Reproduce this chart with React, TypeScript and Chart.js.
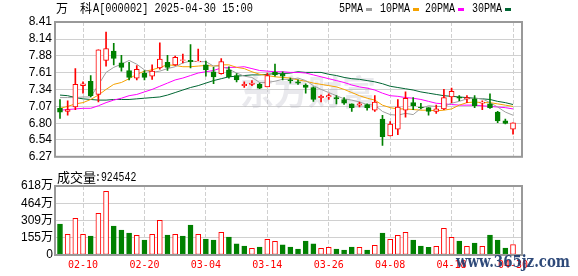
import { useEffect, useRef } from "react";
import { Chart, registerables } from "chart.js";
Chart.register(...registerables);

const dates = ["02-05","02-06","02-07","02-10","02-11","02-12","02-13","02-14","02-17","02-18","02-19","02-20","02-21","02-24","02-25","02-26","02-27","02-28","03-03","03-04","03-05","03-06","03-07","03-10","03-11","03-12","03-13","03-14","03-17","03-18","03-19","03-20","03-21","03-24","03-25","03-26","03-27","03-28","03-31","04-01","04-02","04-03","04-07","04-08","04-09","04-10","04-11","04-14","04-15","04-16","04-17","04-18","04-21","04-22","04-23","04-24","04-25","04-28","04-29","04-30"];
const opens = [7.04,6.99,7.06,7.40,7.47,7.26,7.80,7.95,7.76,7.64,7.52,7.60,7.55,7.68,7.77,7.73,7.80,7.80,7.78,7.73,7.62,7.59,7.65,7.56,7.40,7.42,7.42,7.38,7.61,7.58,7.49,7.46,7.41,7.37,7.21,7.22,7.21,7.18,7.11,7.09,7.10,7.01,6.87,6.60,6.71,7.01,7.13,7.06,7.05,6.99,7.03,7.22,7.22,7.19,7.19,7.12,7.11,6.98,6.84,6.71];
const highs = [7.18,7.16,7.67,7.46,7.56,7.97,8.25,8.07,7.88,7.77,7.72,7.64,7.73,8.08,7.88,7.87,7.90,8.05,7.98,7.79,7.69,7.83,7.70,7.59,7.46,7.48,7.44,7.60,7.74,7.62,7.52,7.49,7.43,7.38,7.25,7.27,7.24,7.21,7.11,7.14,7.11,7.24,6.93,6.83,7.18,7.30,7.21,7.12,7.05,7.09,7.34,7.36,7.24,7.24,7.24,7.16,7.27,6.99,6.87,6.81];
const lows = [6.88,6.93,7.02,7.28,7.22,7.14,7.71,7.73,7.63,7.49,7.49,7.49,7.50,7.66,7.64,7.72,7.76,7.68,7.78,7.55,7.43,7.58,7.52,7.46,7.37,7.40,7.35,7.38,7.55,7.49,7.44,7.42,7.28,7.15,7.14,7.18,7.11,7.10,6.99,7.06,7.01,6.99,6.45,6.60,6.62,6.90,7.02,7.03,6.93,6.96,7.02,7.13,7.16,7.13,7.05,7.02,7.04,6.81,6.79,6.63];
const closes = [6.98,7.02,7.42,7.43,7.24,7.97,7.99,7.83,7.69,7.53,7.66,7.53,7.63,7.82,7.69,7.85,7.81,7.78,7.79,7.65,7.54,7.78,7.54,7.49,7.42,7.44,7.36,7.56,7.57,7.55,7.48,7.44,7.37,7.18,7.23,7.24,7.19,7.12,7.05,7.11,7.05,7.14,6.59,6.79,7.06,7.20,7.08,7.05,6.99,7.03,7.21,7.31,7.20,7.21,7.08,7.14,7.05,6.84,6.80,6.81];
const ma5 = [7.21,7.21,7.21,7.22,7.22,7.41,7.61,7.69,7.74,7.80,7.74,7.65,7.61,7.63,7.67,7.70,7.76,7.79,7.78,7.78,7.71,7.71,7.66,7.60,7.55,7.53,7.45,7.45,7.47,7.50,7.50,7.52,7.48,7.40,7.34,7.29,7.24,7.19,7.17,7.14,7.10,7.09,6.99,6.94,6.93,6.96,6.94,7.04,7.08,7.07,7.07,7.12,7.15,7.19,7.20,7.19,7.13,7.06,6.98,6.93];
const ma10 = [7.04,7.07,7.11,7.13,7.18,7.25,7.34,7.42,7.45,7.51,7.58,7.63,7.65,7.69,7.73,7.72,7.70,7.70,7.71,7.72,7.71,7.73,7.73,7.69,7.67,7.62,7.58,7.56,7.54,7.53,7.52,7.49,7.47,7.44,7.42,7.40,7.38,7.34,7.29,7.24,7.20,7.17,7.09,7.05,7.03,7.03,7.02,7.01,7.01,7.00,7.01,7.03,7.09,7.13,7.14,7.13,7.13,7.11,7.09,7.07];
const ma20 = [7.01,7.02,7.03,7.04,7.04,7.08,7.13,7.17,7.20,7.24,7.26,7.30,7.34,7.39,7.44,7.49,7.52,7.56,7.60,7.62,7.64,7.68,7.69,7.69,7.70,7.67,7.64,7.63,7.62,7.62,7.61,7.61,7.60,7.57,7.54,7.51,7.48,7.45,7.41,7.38,7.36,7.33,7.28,7.24,7.23,7.21,7.20,7.18,7.15,7.12,7.11,7.10,7.09,7.09,7.09,7.08,7.07,7.06,7.05,7.03];
const ma30 = [7.25,7.24,7.21,7.19,7.18,7.17,7.17,7.18,7.18,7.18,7.19,7.20,7.21,7.22,7.25,7.29,7.33,7.37,7.40,7.44,7.48,7.51,7.54,7.55,7.56,7.57,7.57,7.58,7.59,7.59,7.60,7.62,7.61,7.61,7.61,7.58,7.56,7.53,7.51,7.50,7.48,7.46,7.43,7.39,7.37,7.35,7.33,7.30,7.28,7.26,7.24,7.23,7.22,7.21,7.20,7.19,7.18,7.15,7.13,7.10];
// volume in 万
const volumes = [278,185,328,185,170,373,570,260,224,197,176,134,185,310,179,185,170,269,185,143,134,203,161,99,81,60,72,140,122,90,72,54,125,99,60,69,54,45,72,69,45,87,197,140,176,203,134,81,69,78,239,158,125,78,107,78,179,134,63,92.4542];
const priceTicks = [6.27, 6.54, 6.80, 7.07, 7.34, 7.61, 7.88, 8.14, 8.41];
const volTicks = [0, 154.5, 309, 463.5, 618];
const tickDates = ["02-10","02-20","03-04","03-14","03-26","04-08","04-18","04-30"];
const maNames = ["5PMA","10PMA","20PMA","30PMA"];
const stockName = ["万","科"];
const stockCode = "A[000002]";
const stamp = "2025-04-30 15:00";
const volLabel = "成交量";

const RED = "#ff0000";
const GREEN = "#008000";
const MA_COLORS = ["#a0a0a0", "#f5a200", "#ff00ff", "#006633"];
const GRID = "#d0d0d0";
const MONO = "'Liberation Mono', monospace";
const CJK = "'Noto Sans CJK SC'";

function drawFit(ctx: CanvasRenderingContext2D, text: string, x: number, y: number, font: string, charW: number) {
  ctx.save();
  ctx.font = font;
  const w = ctx.measureText(text).width;
  const sx = (charW * text.length) / w;
  ctx.translate(x, y);
  ctx.scale(sx, 1);
  ctx.fillText(text, 0, 0);
  ctx.restore();
}

export default function App() {
  const pRef = useRef<HTMLCanvasElement>(null);
  const vRef = useRef<HTMLCanvasElement>(null);

  useEffect(() => {
    const tickIdx = tickDates.map((d) => dates.indexOf(d));
    const candleUp = closes.map((c, i) => c >= opens[i]);
    const volUp = volumes.map((_, i) => (i === 0 ? closes[0] >= opens[0] : closes[i] >= closes[i - 1]));

    const xScale = (showLabels: boolean, h: number): any => ({
      type: "linear",
      min: -0.52,
      max: 60.17,
      bounds: "data",
      offset: false,
      grid: { display: true, color: GRID, lineWidth: 1, drawTicks: false, offset: false },
      border: { display: false, dash: [4, 2] },
      afterBuildTicks: (s: any) => {
        s.ticks = tickIdx.map((v) => ({ value: v }));
      },
      afterFit: (s: any) => {
        s.height = h;
      },
      ticks: {
        display: showLabels,
        autoSkip: false,
        maxRotation: 0,
        padding: 4,
        color: RED,
        font: { family: "'DejaVu Sans Mono'", size: 10 },
        callback: (v: any) => dates[Math.round(Number(v))] ?? "",
      },
    });

    const priceOverlay = {
      id: "priceOverlay",
      beforeDatasetsDraw(chart: any) {
        const ctx: CanvasRenderingContext2D = chart.ctx;
        ctx.save();
        ctx.font = `bold 34px ${CJK}`;
        ctx.fillStyle = "rgba(175,175,190,0.28)";
        ctx.textAlign = "center";
        ctx.textBaseline = "middle";
        ctx.fillText("东方财富", 308, 92);
        ctx.restore();
      },
      afterDraw(chart: any) {
        const ctx: CanvasRenderingContext2D = chart.ctx;
        const a = chart.chartArea;
        ctx.save();
        ctx.strokeStyle = "#999";
        ctx.lineWidth = 2;
        ctx.strokeRect(a.left - 1, a.top, a.right - a.left + 1, a.bottom - a.top);
        ctx.fillStyle = "#000";
        ctx.textBaseline = "middle";
        ctx.font = `12px ${CJK}`;
        ctx.fillText(stockName[0], 56, 8.5);
        ctx.fillText(stockName[1], 80, 8.5);
        drawFit(ctx, stockCode + " " + stamp, 93, 8.5, `12px ${MONO}`, 6.15);
        const lx = [339, 380, 425, 472];
        maNames.forEach((name, i) => {
          ctx.fillStyle = "#000";
          drawFit(ctx, name, lx[i], 9, `12px ${MONO}`, 6);
          ctx.fillStyle = MA_COLORS[i];
          ctx.fillRect(lx[i] + name.length * 6 + 3, 8, 6, 3);
        });
        ctx.restore();
      },
    };

    const volOverlay = {
      id: "volOverlay",
      afterDraw(chart: any) {
        const ctx: CanvasRenderingContext2D = chart.ctx;
        const a = chart.chartArea;
        ctx.save();
        ctx.strokeStyle = "#999";
        ctx.lineWidth = 2;
        ctx.strokeRect(a.left - 1, a.top, a.right - a.left + 1, a.bottom - a.top);
        ctx.fillStyle = "#000";
        ctx.textBaseline = "middle";
        ctx.font = `13px ${CJK}`;
        ctx.fillText(volLabel, 57, 9.5);
        drawFit(ctx, ":" + Math.round(volumes[volumes.length - 1] * 10000), 95, 9.5, `12px ${MONO}`, 5.9);
        // site watermark
        ctx.fillStyle = "rgba(28,58,110,0.92)";
        ctx.textBaseline = "alphabetic";
        ctx.save();
        ctx.font = `bold 16px 'DejaVu Serif'`;
        const t = "www.365jz.com";
        const w = ctx.measureText(t).width;
        ctx.translate(456, 99);
        ctx.scale(114 / w, 1);
        ctx.fillText(t, 0, 0);
        ctx.restore();
        ctx.restore();
      },
    };

    const priceChart = new Chart(pRef.current!, {
      type: "bar",
      data: {
        datasets: [
          {
            type: "line",
            data: ma5.map((v, i) => ({ x: i, y: v })),
            borderColor: MA_COLORS[0],
            borderWidth: 1,
            pointRadius: 0,
            order: 3,
          } as any,
          {
            type: "line",
            data: ma10.map((v, i) => ({ x: i, y: v })),
            borderColor: MA_COLORS[1],
            borderWidth: 1,
            pointRadius: 0,
            order: 3,
          },
          {
            type: "line",
            data: ma20.map((v, i) => ({ x: i, y: v })),
            borderColor: MA_COLORS[2],
            borderWidth: 1,
            pointRadius: 0,
            order: 3,
          },
          {
            type: "line",
            data: ma30.map((v, i) => ({ x: i, y: v })),
            borderColor: MA_COLORS[3],
            borderWidth: 1,
            pointRadius: 0,
            order: 3,
          },
          {
            type: "bar",
            data: lows.map((l, i) => ({ x: i, y: [l, highs[i]] })),
            backgroundColor: candleUp.map((u) => (u ? RED : GREEN)),
            borderWidth: 0,
            barThickness: 1,
            grouped: false,
            order: 2,
          },
          {
            type: "bar",
            data: opens.map((o, i) => ({ x: i, y: [o, closes[i]] })),
            backgroundColor: candleUp.map((u) => (u ? "#ffffff" : GREEN)),
            borderColor: candleUp.map((u) => (u ? RED : GREEN)),
            borderWidth: 1,
            borderSkipped: false,
            barThickness: 5,
            grouped: false,
            order: 1,
          },
        ] as any,
      },
      options: {
        animation: false,
        responsive: false,
        maintainAspectRatio: false,
        layout: { padding: { left: 0, right: 56, top: 22, bottom: 0 } },
        plugins: { legend: { display: false }, tooltip: { enabled: false } },
        scales: {
          x: xScale(false, 3),
          y: {
            type: "linear",
            position: "left",
            min: 6.27,
            max: 8.41,
            bounds: "data",
            grid: { color: GRID, lineWidth: 1, drawTicks: false },
            border: { display: false },
            afterBuildTicks: (s: any) => {
              s.ticks = priceTicks.map((v) => ({ value: v }));
            },
            afterFit: (s: any) => {
              s.width = 56;
            },
            ticks: {
              autoSkip: false,
              padding: 4,
              color: "#000",
              font: { family: "'Liberation Sans'", size: 12 },
              callback: (v: any) => Number(v).toFixed(2),
            },
          } as any,
        },
      },
      plugins: [priceOverlay],
    });

    const volChart = new Chart(vRef.current!, {
      type: "bar",
      data: {
        datasets: [
          {
            type: "bar",
            data: volumes.map((v, i) => ({ x: i, y: v })),
            backgroundColor: volUp.map((u) => (u ? "#ffffff" : GREEN)),
            borderColor: volUp.map((u) => (u ? RED : GREEN)),
            borderWidth: 1,
            borderSkipped: false,
            barThickness: 5,
            grouped: false,
          },
        ] as any,
      },
      options: {
        animation: false,
        responsive: false,
        maintainAspectRatio: false,
        layout: { padding: { left: 0, right: 56, top: 18, bottom: 0 } },
        plugins: { legend: { display: false }, tooltip: { enabled: false } },
        scales: {
          x: xScale(true, 21),
          y: {
            type: "linear",
            position: "left",
            min: 0,
            max: 618,
            bounds: "data",
            grid: { color: GRID, lineWidth: 1, drawTicks: false },
            border: { display: false },
            afterBuildTicks: (s: any) => {
              s.ticks = volTicks.map((v) => ({ value: v }));
            },
            afterFit: (s: any) => {
              s.width = 56;
            },
            ticks: {
              autoSkip: false,
              padding: 3,
              color: "#000",
              font: { family: `'Liberation Sans', ${CJK}`, size: 12 },
              callback: (v: any) => (Number(v) === 0 ? "0" : Math.round(Number(v)) + "万"),
            },
          } as any,
        },
      },
      plugins: [volOverlay],
    });

    return () => {
      priceChart.destroy();
      volChart.destroy();
    };
  }, []);

  return (
    <div style={{ position: "absolute", left: 0, top: 0, width: 578, height: 276, background: "#fff" }}>
      <canvas ref={pRef} width={578} height={168} style={{ position: "absolute", left: 0, top: 0 }} />
      <canvas ref={vRef} width={578} height={108} style={{ position: "absolute", left: 0, top: 168 }} />
    </div>
  );
}
